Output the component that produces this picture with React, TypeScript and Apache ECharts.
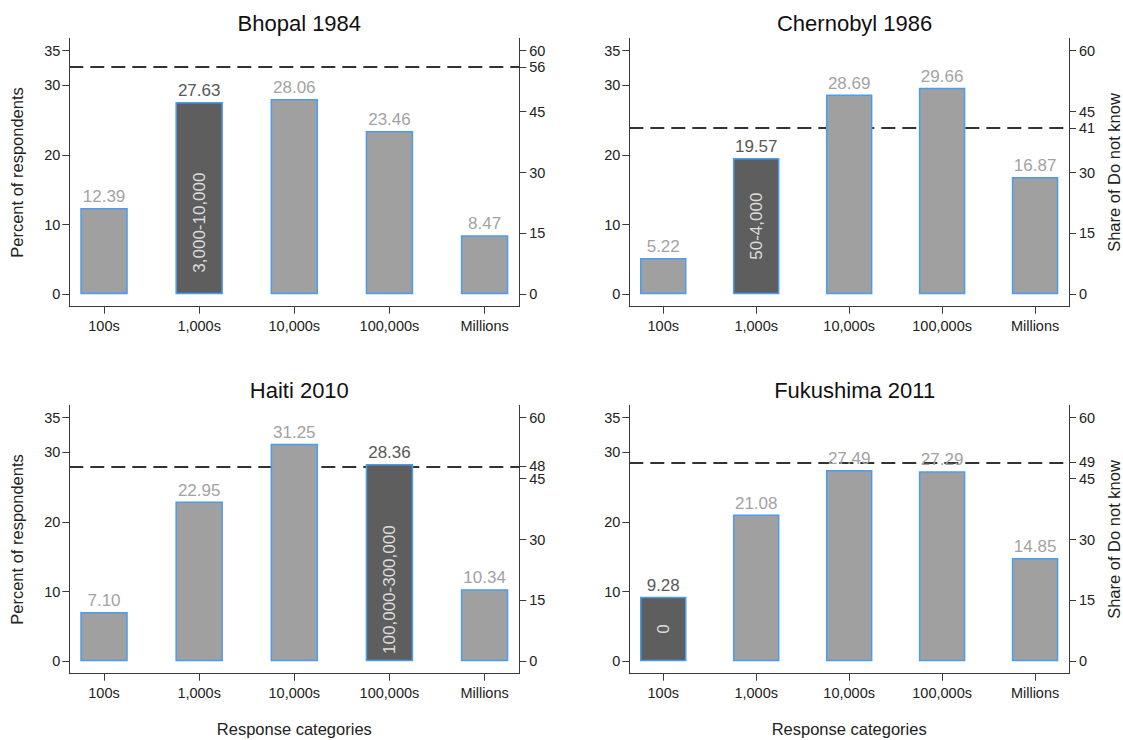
import React, { useEffect, useRef } from "react";
import * as echarts from "echarts";

// ---------- data ----------
const categories = ["100s", "1,000s", "10,000s", "100,000s", "Millions"];
const panelTitles = ["Bhopal 1984", "Chernobyl 1986", "Haiti 2010", "Fukushima 2011"];
const bhopal = [12.39, 27.63, 28.06, 23.46, 8.47];
const chernobyl = [5.22, 19.57, 28.69, 29.66, 16.87];
const haiti = [7.1, 22.95, 31.25, 28.36, 10.34];
const fukushima = [9.28, 21.08, 27.49, 27.29, 14.85];
const panelValues = [bhopal, chernobyl, haiti, fukushima];
const correctIndex = [1, 1, 3, 0];
const correctRanges = ["3,000-10,000", "50-4,000", "100,000-300,000", "0"];
const doNotKnowShare = [56, 41, 48, 49];
const leftTicks = [0, 10, 20, 30, 35];
const rightTicks = [0, 15, 30, 45, 60];
const leftTop = 35;
const rightTop = 60;
const rangeLabelCenter = 10.3;

// ---------- layout / style ----------
const FONT = "'Liberation Sans', Arial, Helvetica, sans-serif";
const yPadLow = -1.78;
const yPadHigh = 36.78;
const grids = [
  { left: 69.3, top: 38.3, width: 450, height: 268.4 },
  { left: 629.3, top: 38.3, width: 440.7, height: 268.4 },
  { left: 69.3, top: 405.3, width: 450, height: 268.4 },
  { left: 629.3, top: 405.3, width: 440.7, height: 268.4 },
];
const AXIS_COLOR = "#3a3a3a";
const LABEL_COLOR = "#222";
const BAR_GREY = "#a0a0a0";
const BAR_DARK = "#5e5e5e";
const BAR_BORDER = "#4a9cf0";
const VAL_GREY = "#a3a3a3";
const VAL_DARK = "#595959";

function buildOption() {
  const catIdx = categories.map((_, i) => i);
  const xAxis = grids.map((g, i) => ({
    type: "value",
    gridIndex: i,
    min: -0.365,
    max: categories.length - 1 + 0.365,
    axisLine: { show: true, onZero: false, lineStyle: { color: AXIS_COLOR, width: 1 } },
    axisTick: { show: true, customValues: catIdx, length: 7, lineStyle: { color: AXIS_COLOR } },
    axisLabel: {
      customValues: catIdx,
      formatter: (v: number) => categories[Math.round(v)],
      fontSize: 14.5,
      color: LABEL_COLOR,
      margin: 12,
      fontFamily: FONT,
    },
    splitLine: { show: false },
    name: i >= 2 ? "Response categories" : "",
    nameLocation: "middle",
    nameGap: 47,
    nameTextStyle: { fontSize: 16.5, color: LABEL_COLOR, fontFamily: FONT },
  }));

  const yAxis: any[] = [];
  grids.forEach((g, i) => {
    const isLeftPanel = i % 2 === 0;
    const allRight = [...rightTicks, doNotKnowShare[i]];
    yAxis.push({
      type: "value",
      gridIndex: i,
      position: "left",
      min: yPadLow,
      max: yPadHigh,
      axisLine: { show: true, onZero: false, lineStyle: { color: AXIS_COLOR, width: 1 } },
      axisTick: { show: true, customValues: leftTicks, length: 7, lineStyle: { color: AXIS_COLOR } },
      axisLabel: { customValues: leftTicks, fontSize: 14.5, color: LABEL_COLOR, margin: 9, fontFamily: FONT },
      splitLine: { show: false },
      name: isLeftPanel ? "Percent of respondents" : "",
      nameLocation: "middle",
      nameRotate: 90,
      nameGap: 44,
      nameTextStyle: { fontSize: 16.5, color: LABEL_COLOR, fontFamily: FONT },
    });
    yAxis.push({
      type: "value",
      gridIndex: i,
      position: "right",
      min: (yPadLow * rightTop) / leftTop,
      max: (yPadHigh * rightTop) / leftTop,
      axisLine: { show: true, onZero: false, lineStyle: { color: AXIS_COLOR, width: 1 } },
      axisTick: { show: true, customValues: allRight, length: 7, lineStyle: { color: AXIS_COLOR } },
      axisLabel: { customValues: allRight, fontSize: 14.5, color: LABEL_COLOR, margin: 10, fontFamily: FONT },
      splitLine: { show: false },
      name: isLeftPanel ? "" : "Share of Do not know",
      nameLocation: "middle",
      nameRotate: 90,
      nameGap: 36,
      nameTextStyle: { fontSize: 16.5, color: LABEL_COLOR, fontFamily: FONT },
    });
  });

  const series: any[] = [];
  panelValues.forEach((vals, i) => {
    const hl = correctIndex[i];
    series.push({
      type: "line",
      xAxisIndex: i,
      yAxisIndex: 2 * i + 1,
      data: [[0, doNotKnowShare[i]]],
      showSymbol: false,
      symbolSize: 0,
      lineStyle: { opacity: 0 },
      z: 1,
      silent: true,
      markLine: {
        silent: true,
        z: 1,
        symbol: ["none", "none"],
        label: { show: false },
        lineStyle: { type: [14, 7], color: "#333", width: 2 },
        data: [{ yAxis: doNotKnowShare[i] }],
      },
    });
    series.push({
      type: "bar",
      xAxisIndex: i,
      yAxisIndex: 2 * i,
      barWidth: i % 2 === 0 ? 47.5 : 46.5,
      z: 3,
      itemStyle: { color: BAR_GREY, borderColor: BAR_BORDER, borderWidth: 1.5 },
      label: {
        show: true,
        position: "top",
        distance: 3,
        fontSize: 17,
        color: VAL_GREY,
        fontFamily: FONT,
        formatter: (p: any) => Number(p.value[1]).toFixed(2),
      },
      data: vals.map((v, j) =>
        j === hl
          ? { value: [j, v], itemStyle: { color: BAR_DARK }, label: { color: VAL_DARK } }
          : { value: [j, v] }
      ),
    });
    series.push({
      type: "scatter",
      xAxisIndex: i,
      yAxisIndex: 2 * i,
      symbolSize: 0,
      z: 5,
      silent: true,
      label: {
        show: true,
        position: "inside",
        rotate: 90,
        color: "#ffffff",
        fontSize: 17,
        fontFamily: FONT,
        formatter: () => correctRanges[i],
      },
      data: [[hl, Math.min(rangeLabelCenter, vals[hl] / 2)]],
    });
  });

  return {
    animation: false,
    backgroundColor: "#ffffff",
    textStyle: { fontFamily: FONT },
    title: panelTitles.map((t, i) => ({
      text: t,
      left: grids[i].left + grids[i].width / 2,
      top: grids[i].top - 31,
      textAlign: "center",
      textStyle: { fontSize: 22, fontWeight: "normal", color: "#111", fontFamily: FONT },
    })),
    grid: grids.map((g) => ({ ...g, containLabel: false })),
    xAxis,
    yAxis,
    series,
  };
}

export default function App() {
  const ref = useRef<HTMLDivElement>(null);
  useEffect(() => {
    document.body.style.margin = "0";
    const chart = echarts.init(ref.current as HTMLDivElement, null, { renderer: "svg" });
    chart.setOption(buildOption() as any);
    return () => chart.dispose();
  }, []);
  return <div ref={ref} style={{ width: 1123, height: 740, background: "#fff" }} />;
}
